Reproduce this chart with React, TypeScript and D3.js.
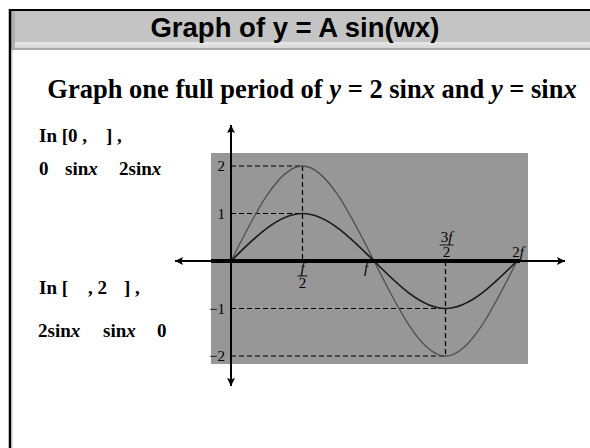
import React from "react";
import * as d3 from "d3";

// Key points of one period: x in radians, values of sin x and 2 sin x
const keyX = [0, Math.PI / 2, Math.PI, (3 * Math.PI) / 2, 2 * Math.PI];
const sinValues = [0, 1, 0, -1, 0];
const twoSinValues = [0, 2, 0, -2, 0];

const yTicks = [2, 1, -1, -2];
const yTickLabels = ["2", "1", "\u22121", "\u22122"];

const W = 590;
const H = 448;

const serif = "'Liberation Serif', 'Times New Roman', serif";
const sans = "'Liberation Sans', Arial, sans-serif";

export default function App() {
  const x = d3.scaleLinear().domain([0, 2 * Math.PI]).range([231, 517]);
  const y = d3.scaleLinear().domain([-2, 2]).range([356, 166]);

  const line = d3
    .line<[number, number]>()
    .x((d) => x(d[0]))
    .y((d) => y(d[1]))
    .curve(d3.curveNatural);

  const sinPts = keyX.map((v, i) => [v, sinValues[i]] as [number, number]);
  const twoSinPts = keyX.map((v, i) => [v, twoSinValues[i]] as [number, number]);

  const x0 = x(0);
  const y0 = y(0);
  const xHalf = x(Math.PI / 2);
  const xPi = x(Math.PI);
  const x3Half = x((3 * Math.PI) / 2);
  const x2Pi = x(2 * Math.PI);

  const dash = "5,3";
  const txt = { fontFamily: serif, fontWeight: 700, fontSize: 19, fill: "#000" } as const;
  const lbl = { fontFamily: serif, fontSize: 15, fill: "#000" } as const;

  return (
    <svg
      width={W}
      height={H}
      style={{ position: "absolute", left: 0, top: 0, background: "#fff" }}
    >
      <defs>
        <linearGradient id="barShine" x1="0" y1="0" x2="0" y2="1">
          <stop offset="0" stopColor="#e9e9e9" />
          <stop offset="1" stopColor="#d6d6d6" />
        </linearGradient>
        <marker id="arr" viewBox="0 0 10 10" refX="10" refY="5" markerWidth="12" markerHeight="8" markerUnits="userSpaceOnUse" orient="auto">
          <path d="M0,0 L10,5 L0,10 L2,5 Z" fill="#000" />
        </marker>
      </defs>

      {/* title bar */}
      <rect x={10} y={10} width={W - 10} height={33} fill="#c4c4c4" />
      <rect x={10} y={42} width={W - 10} height={6} fill="url(#barShine)" />
      <rect x={10} y={48} width={W - 10} height={2} fill="#a9a9a9" />
      <rect x={11} y={11} width={4} height={37} fill="#b0b0b0" />
      <line x1={9} y1={10} x2={W} y2={10} stroke="#000" strokeWidth={2} />
      <line x1={10} y1={9} x2={10} y2={H} stroke="#000" strokeWidth={2.5} />
      <line x1={12} y1={50} x2={12} y2={H} stroke="#bbb" strokeWidth={1} />

      <text x={295} y={37} textAnchor="middle" fontFamily={sans} fontWeight={700} fontSize={27.5} fill="#000">
        Graph of y = A sin(wx)
      </text>

      <text x={312} y={98} textAnchor="middle" fontFamily={serif} fontWeight={700} fontSize={26.5} fill="#000">
        Graph one full period of <tspan fontStyle="italic">y</tspan> = 2 sin<tspan fontStyle="italic">x</tspan> and{" "}
        <tspan fontStyle="italic">y</tspan> = sin<tspan fontStyle="italic">x</tspan>
      </text>

      {/* interval notes */}
      <text x={39} y={142} {...txt}>In [0 ,</text>
      <text x={106} y={142} {...txt}>] ,</text>
      <text x={39} y={175} {...txt}>0</text>
      <text x={65} y={175} {...txt}>sin<tspan fontStyle="italic">x</tspan></text>
      <text x={119} y={175} {...txt}>2sin<tspan fontStyle="italic">x</tspan></text>

      <text x={39} y={294} {...txt}>In [</text>
      <text x={88} y={294} {...txt}>, 2</text>
      <text x={124} y={294} {...txt}>] ,</text>
      <text x={38} y={337} {...txt}>2sin<tspan fontStyle="italic">x</tspan></text>
      <text x={103} y={337} {...txt}>sin<tspan fontStyle="italic">x</tspan></text>
      <text x={157} y={337} {...txt}>0</text>

      {/* plot panel */}
      <rect x={211} y={153} width={317} height={211} fill="#979797" />

      {/* guide lines */}
      <g stroke="#000" strokeWidth={1.2} strokeDasharray={dash} fill="none">
        <line x1={x0} x2={xHalf} y1={y(2)} y2={y(2)} />
        <line x1={x0} x2={xHalf} y1={y(1)} y2={y(1)} />
        <line x1={xHalf} x2={xHalf} y1={y(2)} y2={y0} />
        <line x1={x0} x2={x3Half} y1={y(-1)} y2={y(-1)} />
        <line x1={x0} x2={x3Half} y1={y(-2)} y2={y(-2)} />
        <line x1={x3Half} x2={x3Half} y1={y0} y2={y(-2)} />
      </g>

      {/* curves */}
      <path d={line(twoSinPts) ?? ""} fill="none" stroke="#4f4f4f" strokeWidth={1.3} />
      <path d={line(sinPts) ?? ""} fill="none" stroke="#1a1a1a" strokeWidth={1.7} />

      {/* axes */}
      <line x1={565} y1={y0} x2={175} y2={y0} stroke="#000" strokeWidth={2} markerEnd="url(#arr)" />
      <line x1={x2Pi} y1={y0} x2={565} y2={y0} stroke="#000" strokeWidth={2} markerEnd="url(#arr)" />
      <line x1={211} y1={y0} x2={520} y2={y0} stroke="#000" strokeWidth={4} />
      <line x1={x0} y1={y0} x2={x0} y2={125} stroke="#000" strokeWidth={2} markerEnd="url(#arr)" />
      <line x1={x0} y1={y0} x2={x0} y2={386} stroke="#000" strokeWidth={2} markerEnd="url(#arr)" />

      {/* y tick labels */}
      {yTicks.map((t, i) => (
        <text key={t} x={225} y={y(t)} dy="0.35em" textAnchor="end" {...lbl}>
          {yTickLabels[i]}
        </text>
      ))}

      {/* x tick labels */}
      <text x={xHalf} y={273} textAnchor="middle" {...lbl} fontStyle="italic">f</text>
      <line x1={xHalf - 5} x2={xHalf + 5} y1={276} y2={276} stroke="#000" strokeWidth={0.9} />
      <text x={xHalf} y={288} textAnchor="middle" {...lbl}>2</text>

      <text x={xPi - 8} y={273} textAnchor="middle" {...lbl} fontStyle="italic">f</text>

      <text x={x3Half + 1} y={242} textAnchor="middle" {...lbl}>3<tspan fontStyle="italic">f</tspan></text>
      <line x1={x3Half - 6} x2={x3Half + 8} y1={245} y2={245} stroke="#000" strokeWidth={0.9} />
      <text x={x3Half + 1} y={257} textAnchor="middle" {...lbl}>2</text>

      <text x={x2Pi + 1} y={257} textAnchor="middle" {...lbl}>2<tspan fontStyle="italic">f</tspan></text>
    </svg>
  );
}
